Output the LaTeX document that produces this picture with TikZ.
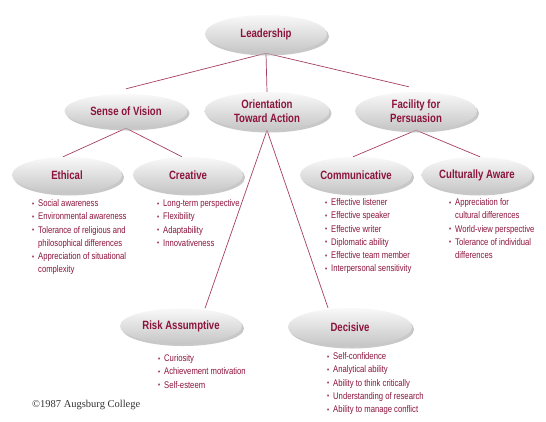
\documentclass[tikz,border=0pt]{standalone}
\usepackage{fontspec}
\setmainfont{Liberation Sans}[FakeStretch=0.8]
\newfontfamily\cpyfont{Liberation Serif}
\usetikzlibrary{shapes.geometric,shadows,backgrounds}
\definecolor{wine}{RGB}{140,20,60}
\definecolor{wineline}{RGB}{165,65,95}
\newcommand{\bul}[1]{\makebox[6pt][l]{\raisebox{0.4pt}{\fontsize{7.5}{7.5}\selectfont\textbullet}}#1}
\newcommand{\cont}[1]{\hspace*{6pt}#1}

\begin{document}
\begin{tikzpicture}[x=1pt, y=-1pt,
  oval/.style={ellipse, inner sep=0pt, top color=gray!5, bottom color=gray!45,
    drop shadow={shadow xshift=2pt, shadow yshift=-2.5pt, fill=gray!60, opacity=0.7},
    text=wine, font=\fontsize{12}{14}\selectfont\bfseries, align=center},
  items/.style={anchor=north west, inner sep=0pt, text=wine, align=left,
    font=\fontsize{9.6}{13.2}\selectfont},
  link/.style={wineline, line width=0.7pt}]
  \useasboundingbox (0,0) rectangle (546,421);
  % ovals
  \node[oval, minimum width=122pt, minimum height=38pt] (lead) at (266,34) {Leadership};
  \node[oval, minimum width=123pt, minimum height=34pt] (vision) at (126,111) {Sense of Vision};
  \node[oval, minimum width=125pt, minimum height=38pt] (orient) at (267,111) {Orientation\\Toward Action};
  \node[oval, minimum width=122pt, minimum height=38pt] (facil) at (416,111) {Facility for\\Persuasion};
  \node[oval, minimum width=110pt, minimum height=36pt] (eth) at (67,175) {Ethical};
  \node[oval, minimum width=110pt, minimum height=36pt] (crea) at (188,175) {Creative};
  \node[oval, minimum width=112pt, minimum height=36pt] (comm) at (356,175) {Communicative};
  \node[oval, minimum width=111pt, minimum height=36pt] (cult) at (477,175) {Culturally Aware};
  \node[oval, minimum width=122pt, minimum height=35pt] (risk) at (181,326) {Risk Assumptive};
  \node[oval, minimum width=124pt, minimum height=38pt] (dec) at (350,327) {Decisive};
  % lists
  \node[items] (ethl) at (32,197.3) {\strut\bul{Social awareness}\\ \bul{Environmental awareness}\\
    \bul{Tolerance of religious and}\\ \cont{philosophical differences}\\
    \bul{Appreciation of situational}\\ \cont{complexity}};
  \node[items] (creal) at (157,197.3) {\strut\bul{Long-term perspective}\\ \bul{Flexibility}\\
    \bul{Adaptability}\\ \bul{Innovativeness}};
  \node[items] (comml) at (325,196.3) {\strut\bul{Effective listener}\\ \bul{Effective speaker}\\
    \bul{Effective writer}\\ \bul{Diplomatic ability}\\ \bul{Effective team member}\\
    \bul{Interpersonal sensitivity}};
  \node[items] (cultl) at (449,196.3) {\strut\bul{Appreciation for}\\ \cont{cultural differences}\\
    \bul{World-view perspective}\\ \bul{Tolerance of individual}\\ \cont{differences}};
  \node[items] (riskl) at (158,352.3) {\strut\bul{Curiosity}\\ \bul{Achievement motivation}\\
    \bul{Self-esteem}};
  \node[items] (decl) at (327,350.3) {\strut\bul{Self-confidence}\\ \bul{Analytical ability}\\
    \bul{Ability to think critically}\\ \bul{Understanding of research}\\
    \bul{Ability to manage conflict}};
  \node[anchor=base west, inner sep=0pt, font=\cpyfont\fontsize{10.5}{12}\selectfont,
    text=black!80] (copy) at (32,407) {\textcopyright1987 Augsburg College};
  % connectors
  \begin{scope}[on background layer]
    \fill[white] (0,0) rectangle (546,421);
    \draw[link] (lead.south) -- ([yshift=5pt]vision.north);
    \draw[link] (lead.south) -- (orient.north);
    \draw[link] (lead.south) -- ([xshift=-7pt, yshift=5pt]facil.north);
    \draw[link] (vision.south) -- ([xshift=-4pt]eth.north);
    \draw[link] (vision.south) -- ([xshift=-6pt]crea.north);
    \draw[link] (facil.south) -- ([xshift=-3pt]comm.north);
    \draw[link] (facil.south) -- ([xshift=3pt]cult.north);
    \draw[link] (orient.south) -- ([xshift=24pt]risk.north);
    \draw[link] (orient.south) -- ([xshift=-22pt]dec.north);
  \end{scope}
\end{tikzpicture}
\end{document}
